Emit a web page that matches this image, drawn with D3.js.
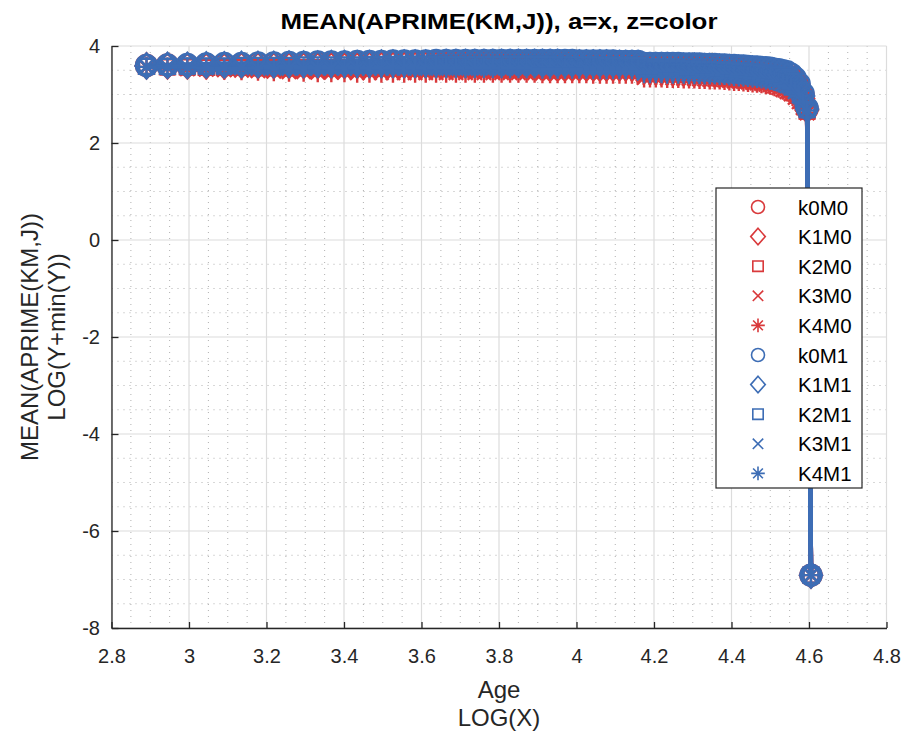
<!DOCTYPE html>
<html><head><meta charset="utf-8">
<script src="https://cdn.jsdelivr.net/npm/d3@7"></script>
<style>body{margin:0;background:#fff}svg{display:block}text{font-family:"Liberation Sans",Arial,Helvetica,sans-serif}</style>
</head><body><svg id="c" width="907" height="740"></svg>
<script>
// ---------------- DATA ----------------
const ages = [18,19,20,21,22,23,24,25,26,27,28,29,30,31,32,33,34,35,36,37,38,39,40,41,42,43,44,45,46,47,48,49,50,51,52,53,54,55,56,57,58,59,60,61,62,63,64,65,66,67,68,69,70,71,72,73,74,75,76,77,78,79,80,81,82,83,84,85,86,87,88,89,90,91,92,93,94,95,96,97,98,99,100];

const seriesNames = ["k0M0","K1M0","K2M0","K3M0","K4M0","k0M1","K1M1","K2M1","K3M1","K4M1"];

const k0M0 = [3.60,3.61,3.61,3.62,3.62,3.63,3.63,3.64,3.64,3.64,3.65,3.65,
3.65,3.66,3.66,3.66,3.66,3.67,3.67,3.67,3.67,3.67,3.67,3.67,3.67,3.67,3.67,
3.67,3.67,3.67,3.67,3.67,3.67,3.67,3.67,3.67,3.66,3.66,3.66,3.66,3.66,3.66,3.66,3.65,3.65,3.65,3.65,
3.60,3.60,3.60,3.60,3.60,3.60,3.59,3.59,3.59,3.59,3.58,3.58,3.58,3.57,3.57,
3.56,3.56,3.55,3.55,3.54,3.53,3.53,3.52,3.51,3.50,
3.49,3.47,3.45,3.43,3.40,3.35,3.28,3.16,2.98,2.70,
-6.91];
const K1M0 = [3.59,3.59,3.59,3.59,3.59,3.60,3.60,3.60,3.60,3.60,3.60,3.60,
3.60,3.60,3.61,3.61,3.61,3.61,3.61,3.61,3.61,3.61,3.61,3.61,3.61,3.61,3.61,
3.61,3.61,3.61,3.61,3.61,3.61,3.61,3.60,3.60,3.60,3.60,3.60,3.60,3.60,3.60,3.59,3.59,3.59,3.59,3.59,
3.53,3.53,3.53,3.53,3.53,3.52,3.52,3.52,3.52,3.51,3.51,3.51,3.50,3.50,3.50,
3.49,3.49,3.48,3.47,3.47,3.46,3.45,3.44,3.43,3.42,
3.41,3.39,3.37,3.34,3.31,3.26,3.19,3.08,2.91,2.68,
-6.91];
const K2M0 = [3.58,3.57,3.57,3.56,3.56,3.56,3.55,3.55,3.55,3.55,3.55,3.55,
3.55,3.55,3.55,3.55,3.55,3.55,3.55,3.55,3.55,3.55,3.55,3.55,3.55,3.55,3.55,
3.55,3.55,3.55,3.55,3.55,3.55,3.54,3.54,3.54,3.54,3.54,3.54,3.54,3.54,3.53,3.53,3.53,3.53,3.53,3.53,
3.46,3.46,3.46,3.46,3.45,3.45,3.45,3.45,3.44,3.44,3.44,3.43,3.43,3.43,3.42,
3.42,3.41,3.40,3.40,3.39,3.38,3.37,3.36,3.35,3.34,
3.33,3.31,3.28,3.25,3.21,3.16,3.09,2.99,2.84,2.66,
-6.91];
const K3M0 = [3.57,3.56,3.55,3.54,3.53,3.53,3.52,3.52,3.51,3.51,3.51,3.50,
3.50,3.50,3.50,3.50,3.50,3.50,3.50,3.50,3.50,3.50,3.50,3.50,3.50,3.50,3.50,
3.50,3.50,3.50,3.50,3.50,3.49,3.49,3.49,3.49,3.49,3.49,3.49,3.48,3.48,3.48,3.48,3.48,3.48,3.48,3.47,
3.40,3.40,3.40,3.40,3.39,3.39,3.39,3.38,3.38,3.38,3.37,3.37,3.37,3.36,3.36,
3.35,3.34,3.34,3.33,3.32,3.31,3.30,3.29,3.28,3.27,
3.25,3.23,3.21,3.17,3.13,3.08,3.01,2.92,2.79,2.64,
-6.91];
const K4M0 = [3.57,3.55,3.53,3.52,3.51,3.50,3.49,3.48,3.47,3.47,3.46,3.46,
3.46,3.45,3.45,3.45,3.45,3.45,3.45,3.45,3.45,3.45,3.45,3.45,3.45,3.45,3.45,
3.45,3.45,3.45,3.45,3.45,3.44,3.44,3.44,3.44,3.44,3.44,3.44,3.43,3.43,3.43,3.43,3.43,3.43,3.43,3.42,
3.35,3.35,3.35,3.35,3.34,3.34,3.34,3.33,3.33,3.33,3.32,3.32,3.31,3.31,3.31,
3.30,3.29,3.28,3.28,3.27,3.26,3.25,3.24,3.23,3.21,
3.20,3.17,3.14,3.10,3.06,3.01,2.94,2.85,2.73,2.62,
-6.91];
const k0M1 = [3.60,3.61,3.62,3.63,3.64,3.64,3.65,3.65,3.66,3.66,3.67,3.67,
3.67,3.68,3.68,3.68,3.69,3.69,3.69,3.69,3.70,3.70,3.70,3.70,3.70,3.70,3.70,
3.70,3.70,3.70,3.70,3.70,3.70,3.70,3.70,3.70,3.70,3.69,3.69,3.69,3.69,3.69,3.69,3.68,3.68,3.68,3.68,
3.64,3.64,3.64,3.64,3.64,3.64,3.64,3.63,3.63,3.63,3.63,3.62,3.62,3.62,3.61,
3.61,3.60,3.60,3.59,3.59,3.58,3.57,3.57,3.56,3.55,
3.54,3.52,3.51,3.49,3.47,3.42,3.34,3.22,3.02,2.72,
-6.91];
const K1M1 = [3.59,3.60,3.60,3.61,3.61,3.62,3.62,3.62,3.63,3.63,3.63,3.64,
3.64,3.64,3.64,3.65,3.65,3.65,3.65,3.65,3.65,3.66,3.66,3.66,3.66,3.66,3.66,
3.66,3.66,3.66,3.66,3.66,3.66,3.66,3.66,3.65,3.65,3.65,3.65,3.65,3.65,3.65,3.64,3.64,3.64,3.64,3.64,
3.59,3.59,3.59,3.59,3.59,3.58,3.58,3.58,3.58,3.58,3.57,3.57,3.57,3.56,3.56,
3.55,3.55,3.54,3.54,3.53,3.52,3.52,3.51,3.50,3.49,
3.48,3.46,3.44,3.42,3.39,3.34,3.27,3.15,2.97,2.70,
-6.91];
const K2M1 = [3.58,3.58,3.59,3.59,3.59,3.60,3.60,3.60,3.60,3.61,3.61,3.61,
3.61,3.61,3.62,3.62,3.62,3.62,3.62,3.62,3.62,3.62,3.62,3.62,3.62,3.62,3.62,
3.62,3.62,3.62,3.62,3.62,3.62,3.62,3.61,3.61,3.61,3.61,3.61,3.61,3.61,3.60,3.60,3.60,3.60,3.60,3.60,
3.54,3.54,3.54,3.54,3.53,3.53,3.53,3.53,3.53,3.52,3.52,3.52,3.51,3.51,3.51,
3.50,3.50,3.49,3.48,3.48,3.47,3.46,3.45,3.44,3.43,
3.42,3.40,3.38,3.35,3.32,3.27,3.20,3.09,2.92,2.69,
-6.91];
const K3M1 = [3.58,3.57,3.57,3.57,3.57,3.57,3.57,3.57,3.57,3.57,3.57,3.57,
3.57,3.58,3.58,3.58,3.58,3.58,3.58,3.58,3.58,3.58,3.58,3.58,3.58,3.58,3.58,
3.58,3.58,3.58,3.58,3.58,3.58,3.57,3.57,3.57,3.57,3.57,3.57,3.57,3.56,3.56,3.56,3.56,3.56,3.56,3.56,
3.49,3.49,3.49,3.49,3.48,3.48,3.48,3.48,3.48,3.47,3.47,3.47,3.46,3.46,3.46,
3.45,3.44,3.44,3.43,3.42,3.41,3.40,3.39,3.38,3.37,
3.36,3.34,3.32,3.29,3.25,3.20,3.13,3.03,2.87,2.68,
-6.91];
const K4M1 = [3.57,3.56,3.56,3.55,3.55,3.55,3.54,3.54,3.54,3.54,3.54,3.54,
3.54,3.54,3.54,3.54,3.54,3.54,3.54,3.54,3.54,3.54,3.54,3.54,3.54,3.54,3.54,
3.54,3.54,3.54,3.54,3.54,3.53,3.53,3.53,3.53,3.53,3.53,3.53,3.52,3.52,3.52,3.52,3.52,3.52,3.52,3.52,
3.44,3.44,3.44,3.44,3.43,3.43,3.43,3.43,3.42,3.42,3.42,3.41,3.41,3.41,3.40,
3.40,3.39,3.38,3.37,3.37,3.36,3.35,3.34,3.33,3.31,
3.30,3.28,3.25,3.22,3.18,3.13,3.06,2.97,2.82,2.67,
-6.91];

const seriesValues = [k0M0,K1M0,K2M0,K3M0,K4M0,k0M1,K1M1,K2M1,K3M1,K4M1];
const seriesColors = ["#d9393b","#d9393b","#d9393b","#d9393b","#d9393b","#3d6db5","#3d6db5","#3d6db5","#3d6db5","#3d6db5"];
const seriesMarkers = ["circle","diamond","square","x","star","circle","diamond","square","x","star"];

const xTicks = [2.8,3,3.2,3.4,3.6,3.8,4,4.2,4.4,4.6,4.8];
const yTicks = [-8,-6,-4,-2,0,2,4];
const xMinorStep = 0.05, yMinorStep = 0.5;

const titleText = "MEAN(APRIME(KM,J)), a=x, z=color";
const xLabelLines = ["Age","LOG(X)"];
const yLabelLines = ["MEAN(APRIME(KM,J))","LOG(Y+min(Y))"];

// ---------------- DRAW ----------------
const svg = d3.select("#c");
const L = 111.5, R = 886.5, T = 46, B = 628;
const x = d3.scaleLinear().domain([2.8,4.8]).range([L,R]);
const y = d3.scaleLinear().domain([-8,4]).range([B,T]);
const axisColor = "#262626";

// minor grid
const xMinor = d3.range(Math.round((4.8-2.8)/xMinorStep)+1).map(i=>+(2.8+i*xMinorStep).toFixed(2)).filter(v=>!xTicks.some(t=>Math.abs(t-v)<1e-6));
const yMinor = d3.range(Math.round(12/yMinorStep)+1).map(i=>-8+i*yMinorStep).filter(v=>!yTicks.includes(v));
const g = svg.append("g");
g.selectAll(".xmin").data(xMinor).join("line")
  .attr("x1",d=>x(d)).attr("x2",d=>x(d)).attr("y1",T).attr("y2",B)
  .attr("stroke","#b0b0b0").attr("stroke-width",1).attr("stroke-dasharray","1,5");
g.selectAll(".ymin").data(yMinor).join("line")
  .attr("y1",d=>y(d)).attr("y2",d=>y(d)).attr("x1",L).attr("x2",R)
  .attr("stroke","#b0b0b0").attr("stroke-width",1).attr("stroke-dasharray","1,5");
// major grid
g.selectAll(".xmaj").data(xTicks).join("line")
  .attr("x1",d=>x(d)).attr("x2",d=>x(d)).attr("y1",T).attr("y2",B)
  .attr("stroke","#dcdcdc").attr("stroke-width",1.2);
g.selectAll(".ymaj").data(yTicks).join("line")
  .attr("y1",d=>y(d)).attr("y2",d=>y(d)).attr("x1",L).attr("x2",R)
  .attr("stroke","#dcdcdc").attr("stroke-width",1.2);

// marker paths
function markerPath(type, s) {
  const p = d3.path();
  if (type==="circle") { p.moveTo(s.r,0); p.arc(0,0,s.r,0,2*Math.PI); p.closePath(); }
  else if (type==="diamond") { p.moveTo(0,-s.dh); p.lineTo(s.dw,0); p.lineTo(0,s.dh); p.lineTo(-s.dw,0); p.closePath(); }
  else if (type==="square") { p.rect(-s.sq,-s.sq,2*s.sq,2*s.sq); }
  else if (type==="x") { p.moveTo(-s.x,-s.x); p.lineTo(s.x,s.x); p.moveTo(-s.x,s.x); p.lineTo(s.x,-s.x); }
  else if (type==="star") { const a=s.st, b=s.st*0.72;
    p.moveTo(0,-a); p.lineTo(0,a); p.moveTo(-a,0); p.lineTo(a,0);
    p.moveTo(-b,-b); p.lineTo(b,b); p.moveTo(-b,b); p.lineTo(b,-b); }
  return p.toString();
}
const plotSize = {r:10.5, dw:11, dh:12.5, sq:7.5, x:7.5, st:10};
const legSize = {r:6.5, dw:7.3, dh:8.3, sq:5.2, x:5.2, st:6.8};

const line = d3.line().x((d,i)=>x(Math.log(ages[i]))).y(d=>y(d));
const plot = svg.append("g");
seriesValues.forEach((vals, si) => {
  const sg = plot.append("g");
  sg.append("path").datum(vals).attr("d",line)
    .attr("fill","none").attr("stroke",seriesColors[si]).attr("stroke-width",4.5).attr("stroke-linejoin","round");
  sg.selectAll("path.m").data(vals).join("path").attr("class","m")
    .attr("transform",(d,i)=>`translate(${x(Math.log(ages[i]))},${y(d)})`)
    .attr("d",markerPath(seriesMarkers[si],plotSize))
    .attr("fill","none").attr("stroke",seriesColors[si]).attr("stroke-width",2.4);
});

// axes
const xAxis = d3.axisBottom(x).tickValues(xTicks).tickSizeInner(-6).tickSizeOuter(0).tickPadding(21).tickFormat(d=>String(d));
const gx = svg.append("g").attr("transform",`translate(0,${B})`).call(xAxis);
const yAxis = d3.axisLeft(y).tickValues(yTicks).tickSizeInner(-7).tickSizeOuter(0).tickPadding(11.5).tickFormat(d=>String(d));
const gy = svg.append("g").attr("transform",`translate(${L},0)`).call(yAxis);
[gx,gy].forEach(a=>{
  a.select(".domain").attr("stroke",axisColor).attr("stroke-width",1.3);
  a.selectAll(".tick line").attr("stroke",axisColor).attr("stroke-width",1.3);
  a.selectAll(".tick text").attr("fill",axisColor).style("font-size","20px").style("font-family",'"Liberation Sans",Arial,sans-serif');
});

// title
svg.append("text").attr("x",(L+R)/2).attr("y",29).attr("text-anchor","middle")
  .style("font-size","22px").style("font-weight","bold").attr("fill","#000")
  .attr("textLength",437).attr("lengthAdjust","spacingAndGlyphs").text(titleText);

// x label
svg.selectAll(".xl").data(xLabelLines).join("text")
  .attr("x",(L+R)/2).attr("y",(d,i)=>698+i*28).attr("text-anchor","middle")
  .style("font-size","24px").attr("fill",axisColor).text(d=>d);
// y label
svg.selectAll(".yl").data(yLabelLines).join("text")
  .attr("transform",(d,i)=>`translate(${38+i*27},${(T+B)/2}) rotate(-90)`).attr("text-anchor","middle")
  .style("font-size","24px").attr("fill",axisColor).text(d=>d);

// legend
const lg = svg.append("g");
const lx = 716, ly = 188, lw = 146, lh = 300, rowH = 29.6, row0 = 207;
lg.append("rect").attr("x",lx).attr("y",ly).attr("width",lw).attr("height",lh)
  .attr("fill","#fff").attr("stroke","#262626").attr("stroke-width",1.2);
seriesNames.forEach((nm,si)=>{
  const cy = row0 + si*rowH;
  lg.append("path").attr("transform",`translate(758,${cy})`).attr("d",markerPath(seriesMarkers[si],legSize))
    .attr("fill","none").attr("stroke",seriesColors[si]).attr("stroke-width",1.6);
  lg.append("text").attr("x",798).attr("y",cy+7.5).style("font-size","20.5px").attr("fill","#000").text(nm);
});
</script></body></html>
